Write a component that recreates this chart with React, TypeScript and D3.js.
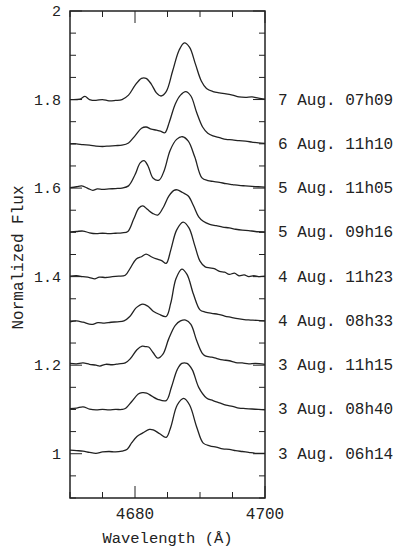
import React from 'react';
import * as d3 from 'd3';

// Observation labels, bottom to top (offset 1.0 ... 1.8)
const LABELS = [
  '3 Aug. 06h14', '3 Aug. 08h40', '3 Aug. 11h15',
  '4 Aug. 08h33', '4 Aug. 11h23', '5 Aug. 09h16',
  '5 Aug. 11h05', '6 Aug. 11h10', '7 Aug. 07h09',
];
const OFFSETS = [1.0, 1.1, 1.2, 1.3, 1.4, 1.5, 1.6, 1.7, 1.8];

// [wavelength (Å), normalized flux]
const S_0306 = [
  [4670, 1.008], [4671, 1.007], [4672, 1.006], [4673, 1.003], [4674, 1.001], [4675, 1.004],
  [4676, 1.005], [4677, 1.004], [4678, 1.006], [4678.8, 1.010], [4679.5, 1.025], [4680.3, 1.039],
  [4681.2, 1.047], [4682.2, 1.055], [4682.8, 1.054], [4683.8, 1.045], [4684.8, 1.037], [4685.5, 1.060],
  [4686.5, 1.110], [4687.5, 1.125], [4688.4, 1.110], [4689.5, 1.060], [4690.5, 1.024], [4691.5, 1.018],
  [4692.5, 1.015], [4693.5, 1.011], [4694.5, 1.010], [4695.5, 1.007], [4696.5, 1.005], [4697.5, 1.003],
  [4698.5, 1.001], [4700, 1.001],
];
const S_0308 = [
  [4670, 1.102], [4671, 1.103], [4672, 1.106], [4673, 1.101], [4674, 1.099], [4675, 1.100],
  [4676, 1.099], [4677, 1.100], [4678, 1.100], [4678.5, 1.102], [4679.5, 1.118], [4680.5, 1.135],
  [4681.1, 1.138], [4681.8, 1.137], [4682.6, 1.130], [4683.5, 1.123], [4684.8, 1.120], [4685.6, 1.150],
  [4686.5, 1.190], [4687.2, 1.204], [4688, 1.204], [4688.8, 1.190], [4689.8, 1.150], [4691, 1.126],
  [4692, 1.120], [4693, 1.115], [4694, 1.110], [4695, 1.107], [4696, 1.103], [4697, 1.102],
  [4698, 1.101], [4699, 1.100], [4700, 1.099],
];
const S_0311 = [
  [4670, 1.204], [4671, 1.203], [4672, 1.205], [4673, 1.202], [4674, 1.200], [4674.6, 1.198],
  [4675.5, 1.202], [4676.5, 1.201], [4677.5, 1.203], [4678.5, 1.205], [4679.3, 1.215], [4680.3, 1.235],
  [4681.1, 1.243], [4681.6, 1.242], [4682.1, 1.241], [4682.8, 1.228], [4683.5, 1.216], [4684.3, 1.225],
  [4685.2, 1.260], [4686.2, 1.290], [4687, 1.300], [4687.8, 1.302], [4688.6, 1.292], [4689.5, 1.255],
  [4690.3, 1.228], [4690.8, 1.221], [4691.8, 1.218], [4692.6, 1.215], [4693.5, 1.212], [4694.5, 1.210],
  [4695.5, 1.206], [4696.5, 1.205], [4697.5, 1.203], [4698.5, 1.204], [4700, 1.202],
];
const S_0408 = [
  [4670, 1.298], [4671, 1.300], [4672, 1.297], [4673.3, 1.292], [4674.3, 1.296], [4675.3, 1.295],
  [4676.3, 1.297], [4677.3, 1.298], [4678.3, 1.300], [4679.2, 1.310], [4680.2, 1.330], [4681.2, 1.338],
  [4682, 1.333], [4682.8, 1.322], [4683.7, 1.315], [4684.8, 1.310], [4685.5, 1.340], [4686.3, 1.395],
  [4687.2, 1.417], [4688, 1.405], [4689, 1.360], [4690, 1.325], [4690.8, 1.320], [4691.8, 1.317],
  [4692.8, 1.315], [4693.8, 1.311], [4694.8, 1.308], [4695.8, 1.305], [4696.8, 1.303], [4697.8, 1.302],
  [4698.8, 1.301], [4700, 1.300],
];
const S_0411 = [
  [4670, 1.401], [4671, 1.402], [4672, 1.400], [4673, 1.398], [4673.8, 1.395], [4674.5, 1.399],
  [4675.5, 1.398], [4676.5, 1.400], [4677.5, 1.401], [4678.5, 1.403], [4679.3, 1.420], [4680.2, 1.440],
  [4681, 1.445], [4681.7, 1.451], [4682.5, 1.445], [4683.3, 1.440], [4684.1, 1.436], [4684.8, 1.430],
  [4685.5, 1.460], [4686.4, 1.505], [4687.4, 1.523], [4688.3, 1.510], [4689.2, 1.470], [4690, 1.435],
  [4690.8, 1.422], [4691.5, 1.420], [4692.2, 1.418], [4693, 1.412], [4693.8, 1.410], [4694.5, 1.405],
  [4695.3, 1.408], [4696, 1.402], [4696.8, 1.404], [4697.5, 1.400], [4698.3, 1.402], [4699, 1.400],
  [4700, 1.401],
];
const S_0509 = [
  [4670, 1.501], [4671, 1.502], [4672, 1.503], [4673, 1.499], [4674, 1.497], [4675, 1.498],
  [4676, 1.497], [4677, 1.498], [4678, 1.499], [4678.9, 1.502], [4679.8, 1.530], [4680.6, 1.555],
  [4681.2, 1.560], [4681.9, 1.552], [4682.7, 1.543], [4683.5, 1.539], [4684.3, 1.555], [4685.2, 1.582],
  [4686, 1.595], [4686.5, 1.596], [4687.3, 1.590], [4688.2, 1.582], [4689, 1.560], [4689.8, 1.535],
  [4690.5, 1.525], [4691.5, 1.518], [4692.5, 1.515], [4693.5, 1.512], [4694.5, 1.510], [4695.5, 1.507],
  [4696.5, 1.505], [4697.5, 1.504], [4698.5, 1.502], [4700, 1.501],
];
const S_0511 = [
  [4670, 1.601], [4671, 1.603], [4671.8, 1.605], [4672.8, 1.599], [4673.5, 1.595], [4674.2, 1.598],
  [4675, 1.597], [4676, 1.598], [4677, 1.599], [4678, 1.600], [4679, 1.605], [4680, 1.630],
  [4680.8, 1.657], [4681.4, 1.662], [4682, 1.650], [4682.8, 1.622], [4683.7, 1.618], [4684.5, 1.640],
  [4685.4, 1.685], [4686.4, 1.710], [4687.3, 1.716], [4688.2, 1.706], [4689.2, 1.670], [4690.3, 1.623],
  [4691.2, 1.617], [4692, 1.615], [4693, 1.613], [4694, 1.610], [4695, 1.608], [4696, 1.606],
  [4697, 1.605], [4698, 1.604], [4699, 1.603], [4700, 1.602],
];
const S_0611 = [
  [4670, 1.700], [4671, 1.700], [4672, 1.698], [4673, 1.697], [4674, 1.695], [4675, 1.694],
  [4676, 1.695], [4677, 1.696], [4678, 1.697], [4679, 1.702], [4680, 1.718], [4681, 1.735],
  [4681.7, 1.738], [4682.5, 1.733], [4683.3, 1.731], [4684, 1.728], [4684.6, 1.725], [4685.3, 1.750],
  [4686.2, 1.790], [4687, 1.810], [4687.8, 1.818], [4688.6, 1.808], [4689.5, 1.770], [4690.4, 1.738],
  [4691.2, 1.724], [4692, 1.718], [4693, 1.714], [4694, 1.710], [4695, 1.709], [4696, 1.707],
  [4697, 1.706], [4698, 1.704], [4699, 1.702], [4700, 1.701],
];
const S_0707 = [
  [4670, 1.800], [4671.5, 1.801], [4672.3, 1.807], [4673, 1.800], [4674, 1.798], [4675, 1.800],
  [4676, 1.797], [4677, 1.798], [4678, 1.800], [4679, 1.810], [4680, 1.832], [4681, 1.848],
  [4681.7, 1.848], [4682.5, 1.835], [4683.3, 1.815], [4684, 1.808], [4684.8, 1.818], [4685.8, 1.865],
  [4686.8, 1.912], [4687.6, 1.928], [4688.4, 1.918], [4689.3, 1.880], [4690.2, 1.842], [4691, 1.825],
  [4692, 1.818], [4693, 1.815], [4694, 1.813], [4695, 1.810], [4696, 1.806], [4697, 1.805],
  [4698, 1.806], [4699, 1.803], [4700, 1.801],
];
const SPECTRA = [S_0306, S_0308, S_0311, S_0408, S_0411, S_0509, S_0511, S_0611, S_0707];

const X_DOMAIN = [4670, 4700];
const Y_DOMAIN = [0.9, 2.0];
const X_LABELS = [4680, 4700];
const Y_LABELS = [1, 1.2, 1.4, 1.6, 1.8, 2];

const W = 405;
const H = 549;
const M = { top: 11, right: 140, bottom: 51, left: 70 };
const FONT = '"Liberation Mono", "DejaVu Sans Mono", monospace';
const INK = '#222';

export default function App() {
  const x = d3.scaleLinear().domain(X_DOMAIN).range([M.left, W - M.right]);
  const y = d3.scaleLinear().domain(Y_DOMAIN).range([H - M.bottom, M.top]);

  const line = d3.line<number[]>()
    .x(d => x(d[0]))
    .y(d => y(d[1]))
    .curve(d3.curveCatmullRom.alpha(0.5));

  const xMinor = d3.range(X_DOMAIN[0], X_DOMAIN[1] + 0.01, 5);
  const yMinor = d3.range(0, 23).map(i => +(0.9 + i * 0.05).toFixed(2)).filter(v => v <= 2.0001);
  const isYMajor = (v: number) => Y_LABELS.some(l => Math.abs(l - v) < 1e-6);
  const isXMajor = (v: number) => X_LABELS.some(l => Math.abs(l - v) < 1e-6);

  const x0 = M.left, x1 = W - M.right, y0 = M.top, y1 = H - M.bottom;

  return (
    <div style={{ position: 'absolute', left: 0, top: 0 }}>
      <svg width={W} height={H} style={{ display: 'block', background: '#fff' }}>
        {/* spectra */}
        <g fill="none" stroke={INK} strokeWidth={1.3} strokeLinejoin="round">
          {SPECTRA.map((s, i) => <path key={i} d={line(s) || ''} />)}
        </g>

        {/* ticks on all four sides */}
        <g stroke={INK} strokeWidth={1}>
          {yMinor.map(v => {
            const len = isYMajor(v) ? 12 : 6;
            return (
              <g key={v}>
                <line x1={x0} x2={x0 + len} y1={y(v)} y2={y(v)} />
                <line x1={x1} x2={x1 - len} y1={y(v)} y2={y(v)} />
              </g>
            );
          })}
          {xMinor.map(v => {
            const len = isXMajor(v) ? 12 : 6;
            return (
              <g key={v}>
                <line x1={x(v)} x2={x(v)} y1={y1} y2={y1 - len} />
                <line x1={x(v)} x2={x(v)} y1={y0} y2={y0 + len} />
              </g>
            );
          })}
        </g>

        {/* frame */}
        <rect x={x0} y={y0} width={x1 - x0} height={y1 - y0} fill="none" stroke={INK} strokeWidth={1.5} />

        {/* labels */}
        <g fontFamily={FONT} fill={INK}>
          {Y_LABELS.map(v => (
            <text key={v} x={x0 - 9} y={y(v) + 5} textAnchor="end" fontSize={15}>{d3.format('~g')(v)}</text>
          ))}
          {X_LABELS.map(v => (
            <text key={v} x={x(v)} y={y1 + 21} textAnchor="middle" fontSize={16}>{v}</text>
          ))}
          <text x={(x0 + x1) / 2} y={y1 + 45} textAnchor="middle" fontSize={15.5}>Wavelength (Å)</text>
          <text transform={`translate(23,${(y0 + y1) / 2 + 3}) rotate(-90)`} textAnchor="middle" fontSize={16}>Normalized Flux</text>
          {LABELS.map((l, i) => (
            <text key={l} x={x1 + 13} y={y(OFFSETS[i]) + 5} fontSize={16}>{l}</text>
          ))}
        </g>
      </svg>
    </div>
  );
}
